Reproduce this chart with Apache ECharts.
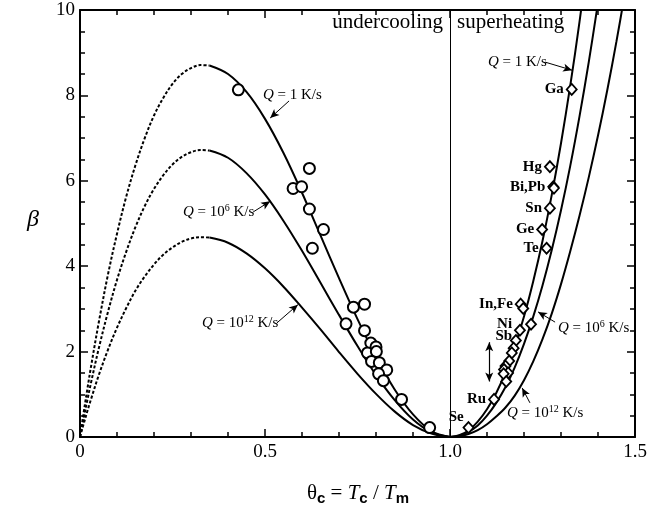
<!DOCTYPE html>
<html><head><meta charset="utf-8">
<script src="https://cdn.jsdelivr.net/npm/echarts@6/dist/echarts.min.js"></script>
<style>html,body{margin:0;padding:0;background:#fff}#c{width:670px;height:510px}</style>
</head><body><div id="c"></div>
<script>
// ---- tick labels ----
const xTickLabels = ['0', '0.5', '1.0', '1.5'];
const yTickLabels = ['0', '2', '4', '6', '8', '10'];

// ---- theory curves ----
const thetaDash = [0, 0.005, 0.01, 0.02, 0.03, 0.05, 0.075, 0.1, 0.125, 0.15, 0.175, 0.2, 0.225, 0.25, 0.275, 0.3, 0.325, 0.35];
const q1Dash  = [0, 0.29, 0.58, 1.13, 1.66, 2.65, 3.78, 4.76, 5.63, 6.37, 7.00, 7.53, 7.94, 8.27, 8.50, 8.64, 8.71, 8.70];
const q6Dash  = [0, 0.22, 0.44, 0.87, 1.28, 2.05, 2.91, 3.68, 4.34, 4.92, 5.41, 5.81, 6.13, 6.38, 6.56, 6.67, 6.72, 6.71];
const q12Dash = [0, 0.16, 0.31, 0.61, 0.89, 1.43, 2.03, 2.56, 3.02, 3.43, 3.76, 4.04, 4.27, 4.44, 4.57, 4.65, 4.68, 4.67];

const thetaUnder = [0.35, 0.4, 0.45, 0.5, 0.55, 0.6, 0.65, 0.7, 0.75, 0.8, 0.85, 0.9, 0.95, 1.0];
const q1Under  = [8.70, 8.50, 8.08, 7.45, 6.65, 5.72, 4.72, 3.72, 2.76, 1.88, 1.12, 0.53, 0.14, 0];
const q6Under  = [6.71, 6.54, 6.18, 5.68, 5.06, 4.36, 3.61, 2.86, 2.13, 1.45, 0.87, 0.41, 0.11, 0];
const q12Under = [4.67, 4.55, 4.30, 3.95, 3.52, 3.03, 2.52, 1.99, 1.48, 1.01, 0.60, 0.28, 0.08, 0];

const thetaSuper = [1.0, 1.025, 1.05, 1.075, 1.1, 1.125, 1.15, 1.175, 1.2, 1.225, 1.25, 1.275, 1.3, 1.325, 1.35, 1.375, 1.4, 1.425, 1.45, 1.475];
const q1Super  = [0, 0.04, 0.15, 0.36, 0.65, 1.03, 1.52, 2.12, 2.82, 3.65, 4.59, 5.67, 6.88, 8.23, 9.72, 11.37];
const q6Super  = [0, 0.03, 0.12, 0.27, 0.50, 0.80, 1.17, 1.63, 2.18, 2.82, 3.55, 4.38, 5.31, 6.35, 7.51, 8.78, 10.17];
const q12Super = [0, 0.02, 0.07, 0.16, 0.30, 0.48, 0.69, 0.97, 1.33, 1.77, 2.29, 2.89, 3.58, 4.35, 5.18, 6.08, 7.06, 8.12, 9.27, 10.51];

// ---- undercooling experiments (circles) ----
const circTheta = [0.428, 0.620, 0.576, 0.599, 0.620, 0.658, 0.628, 0.739, 0.769, 0.719, 0.769, 0.786, 0.800, 0.777, 0.801, 0.788, 0.809, 0.829, 0.807, 0.820, 0.869, 0.945];
const circBeta  = [8.13, 6.29, 5.82, 5.86, 5.34, 4.86, 4.42, 3.04, 3.11, 2.65, 2.49, 2.20, 2.11, 1.97, 2.00, 1.77, 1.74, 1.57, 1.48, 1.32, 0.88, 0.22];

// ---- superheating experiments (diamonds) ----
const diaNames = ['Ga', 'Hg', 'Bi,Pb', '', 'Sn', 'Ge', 'Te', 'In,Fe', '', '', 'Ni\nSb', '', '', '', '', '', '', '', '', '', 'Ru', 'Se'];
const diaTheta = [1.329, 1.270, 1.279, 1.281, 1.270, 1.249, 1.261, 1.191, 1.198, 1.219, 1.189, 1.178, 1.172, 1.167, 1.160, 1.150, 1.146, 1.157, 1.145, 1.152, 1.119, 1.050];
const diaBeta  = [8.14, 6.33, 5.86, 5.83, 5.36, 4.86, 4.42, 3.11, 3.01, 2.64, 2.50, 2.26, 2.08, 1.97, 1.78, 1.66, 1.58, 1.50, 1.48, 1.30, 0.88, 0.22];

// ---- annotation arrows (data coords) ----
const arrowFrom = [[0.565, 7.87], [0.468, 5.27], [0.532, 2.67], [1.257, 8.78], [1.284, 2.69], [1.216, 0.80]];
const arrowTo   = [[0.514, 7.47], [0.514, 5.52], [0.589, 3.10], [1.330, 8.59], [1.238, 2.93], [1.195, 1.15]];
const errBar = [[1.106, 2.22], [1.106, 1.30]];

const SERIF = '"Liberation Serif","DejaVu Serif",serif';
const pairs = (xs, ys) => ys.map((y, i) => [xs[i], y]);

function curve(xs, ys, dashed) {
  return {
    type: 'line', data: pairs(xs, ys), symbol: 'none', showSymbol: false,
    smooth: 0.35, clip: true, silent: true, z: 3,
    lineStyle: { color: '#000', width: 2, type: dashed ? [3, 2] : 'solid' }
  };
}

const axisCommonX = {
  type: 'value', min: 0, max: 1.5, interval: 0.5,
  axisLine: { show: true, onZero: false, lineStyle: { color: '#000', width: 2 } },
  axisTick: { show: true, inside: true, length: 8, lineStyle: { color: '#000', width: 1.5 } },
  minorTick: { show: true, splitNumber: 5, length: 5, lineStyle: { color: '#000', width: 1.5 } },
  splitLine: { show: false }, minorSplitLine: { show: false }
};
const axisCommonY = {
  type: 'value', min: 0, max: 10, interval: 2,
  axisLine: { show: true, onZero: false, lineStyle: { color: '#000', width: 2 } },
  axisTick: { show: true, inside: true, length: 8, lineStyle: { color: '#000', width: 1.5 } },
  minorTick: { show: true, splitNumber: 4, length: 5, lineStyle: { color: '#000', width: 1.5 } },
  splitLine: { show: false }, minorSplitLine: { show: false }
};

const chart = echarts.init(document.getElementById('c'), null, { renderer: 'canvas' });

const arrowLines = arrowFrom.map((f, i) => [{ coord: f }, { coord: arrowTo[i] }]);

const qLabel = { i: { fontFamily: SERIF, fontStyle: 'italic', fontSize: 15, lineHeight: 18 },
                 n: { fontFamily: SERIF, fontSize: 15, lineHeight: 18 },
                 s: { fontFamily: SERIF, fontSize: 10, lineHeight: 10, verticalAlign: 'top' } };
function qText(x, y, txt) {
  return { type: 'text', x: x, y: y, silent: true, z: 10,
    style: { text: txt, rich: qLabel, fill: '#000', align: 'left', verticalAlign: 'middle',
             textAlign: 'left', textVerticalAlign: 'middle', font: '15px ' + SERIF } };
}

chart.setOption({
  animation: false,
  backgroundColor: '#fff',
  grid: { left: 80, right: 35, top: 10, bottom: 73, containLabel: false },
  xAxis: [
    Object.assign({}, axisCommonX, { position: 'bottom',
      axisLabel: { show: true, margin: 6, color: '#000', fontFamily: SERIF, fontSize: 19,
        formatter: v => xTickLabels[Math.round(v / 0.5)] } }),
    Object.assign({}, axisCommonX, { position: 'top', axisLabel: { show: false } })
  ],
  yAxis: [
    Object.assign({}, axisCommonY, { position: 'left',
      axisLabel: { show: true, margin: 5, color: '#000', fontFamily: SERIF, fontSize: 19,
        formatter: v => yTickLabels[Math.round(v / 2)] } }),
    Object.assign({}, axisCommonY, { position: 'right', axisLabel: { show: false } })
  ],
  series: [
    curve(thetaDash, q1Dash, true), curve(thetaDash, q6Dash, true), curve(thetaDash, q12Dash, true),
    curve(thetaUnder, q1Under, false), curve(thetaUnder, q6Under, false), curve(thetaUnder, q12Under, false),
    curve(thetaSuper, q1Super, false), curve(thetaSuper, q6Super, false), curve(thetaSuper, q12Super, false),
    {
      type: 'scatter', symbol: 'circle', symbolSize: 11, z: 5, silent: true,
      data: pairs(circTheta, circBeta),
      itemStyle: { color: '#fff', borderColor: '#000', borderWidth: 2, opacity: 1 },
      markLine: {
        silent: true, animation: false, symbol: ['none', 'none'],
        label: { show: false },
        lineStyle: { color: '#000', width: 1, type: 'solid' },
        data: [{ xAxis: 1 }]
      }
    },
    {
      type: 'scatter', symbol: 'diamond', symbolSize: [10, 11], z: 6, silent: true,
      data: diaTheta.map((t, i) => {
        const d = { value: [t, diaBeta[i]], name: diaNames[i] };
        if (diaNames[i] === 'Se') d.label = { position: 'left', offset: [3, -10] };
        return d;
      }),
      itemStyle: { color: '#fff', borderColor: '#000', borderWidth: 1.8, opacity: 1 },
      label: { show: true, position: 'left', distance: 2, formatter: p => p.name,
        color: '#000', fontFamily: SERIF, fontSize: 15, fontWeight: 'bold', lineHeight: 12 },
      markLine: {
        silent: true, animation: false, symbol: ['none', 'arrow'], symbolSize: [6, 9],
        label: { show: false },
        lineStyle: { color: '#000', width: 1, type: 'solid' },
        data: arrowLines
      }
    },
    {
      type: 'scatter', data: [], silent: true,
      markLine: {
        silent: true, animation: false, symbol: ['arrow', 'arrow'], symbolSize: [6, 9],
        label: { show: false },
        lineStyle: { color: '#000', width: 1.2, type: 'solid' },
        data: [[{ coord: errBar[0] }, { coord: errBar[1] }]]
      }
    }
  ],
  graphic: [
    { type: 'text', x: 443, y: 22, silent: true,
      style: { text: 'undercooling', font: '21px ' + SERIF, fill: '#000', align: 'right', verticalAlign: 'middle', textAlign: 'right', textVerticalAlign: 'middle' } },
    { type: 'text', x: 457, y: 22, silent: true,
      style: { text: 'superheating', font: '21px ' + SERIF, fill: '#000', align: 'left', verticalAlign: 'middle', textAlign: 'left', textVerticalAlign: 'middle' } },
    qText(263, 95, '{i|Q}{n| = 1 K/s}'),
    qText(183, 212, '{i|Q}{n| = 10}{s|6}{n| K/s}'),
    qText(202, 323, '{i|Q}{n| = 10}{s|12}{n| K/s}'),
    qText(488, 62, '{i|Q}{n| = 1 K/s}'),
    qText(558, 328, '{i|Q}{n| = 10}{s|6}{n| K/s}'),
    qText(507, 413, '{i|Q}{n| = 10}{s|12}{n| K/s}'),
    { type: 'text', x: 33, y: 220, silent: true,
      style: { text: 'β', font: 'italic 24px ' + SERIF, fill: '#000', align: 'center', verticalAlign: 'middle', textAlign: 'center', textVerticalAlign: 'middle' } },
    { type: 'text', x: 358, y: 493, silent: true,
      style: { text: '{a|θ}{b|c}{a| = }{t|T}{b|c}{a| / }{t|T}{b|m}', fill: '#000',
        align: 'center', verticalAlign: 'middle', textAlign: 'center', textVerticalAlign: 'middle',
        rich: {
          a: { fontFamily: SERIF, fontSize: 21, lineHeight: 26, verticalAlign: 'middle' },
          t: { fontFamily: SERIF, fontStyle: 'italic', fontSize: 21, lineHeight: 26, verticalAlign: 'middle' },
          b: { fontFamily: '"Liberation Sans",Arial,sans-serif', fontWeight: 'bold', fontSize: 15, lineHeight: 14, verticalAlign: 'bottom' }
        } } }
  ]
});
</script></body></html>
